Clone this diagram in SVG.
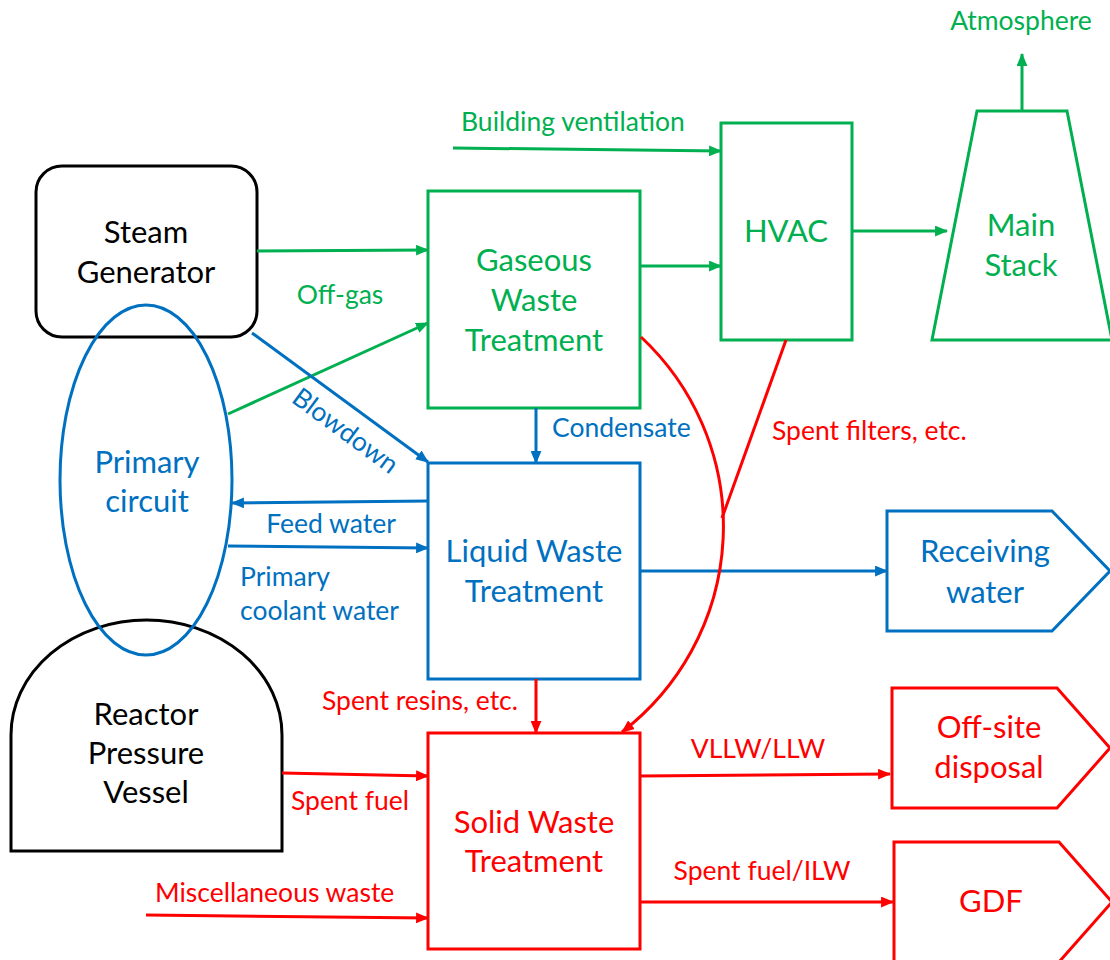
<svg xmlns="http://www.w3.org/2000/svg" width="1110" height="960" viewBox="0 0 1110 960">
<defs>
<style>
text{font-family:Lato,"Open Sans","Liberation Sans",sans-serif}
.big{font-size:31px;text-anchor:middle}
.sm{font-size:26.5px}
.g{fill:#00B050}.b{fill:#0070C0}.r{fill:#FF0000}.k{fill:#000}
.ng{fill:#fff;stroke:#00B050;stroke-width:3}
.nb{fill:none;stroke:#0070C0;stroke-width:3}
.nr{fill:#fff;stroke:#FF0000;stroke-width:3}
.nk{fill:#fff;stroke:#000;stroke-width:3}
.cg{fill:none;stroke:#00B050;stroke-width:3;marker-end:url(#ag)}
.cb{fill:none;stroke:#0070C0;stroke-width:3;marker-end:url(#ab)}
.cr{fill:none;stroke:#FF0000;stroke-width:3;marker-end:url(#ar)}
.crn{fill:none;stroke:#FF0000;stroke-width:3}
</style>
<marker id="ag" viewBox="0 0 12 10" refX="11" refY="5" markerWidth="13" markerHeight="11" orient="auto" markerUnits="userSpaceOnUse"><path d="M0,0 L12,5 L0,10 Z" fill="#00B050"/></marker>
<marker id="ab" viewBox="0 0 12 10" refX="11" refY="5" markerWidth="13" markerHeight="11" orient="auto" markerUnits="userSpaceOnUse"><path d="M0,0 L12,5 L0,10 Z" fill="#0070C0"/></marker>
<marker id="ar" viewBox="0 0 12 10" refX="11" refY="5" markerWidth="13" markerHeight="11" orient="auto" markerUnits="userSpaceOnUse"><path d="M0,0 L12,5 L0,10 Z" fill="#FF0000"/></marker>
</defs>
<rect width="1110" height="960" fill="#fff"/>

<g id="steam-generator">
<rect class="nk" x="36" y="166" width="221" height="171" rx="26"/>
<text class="big k" x="146" y="243">Steam</text>
<text class="big k" x="146" y="283">Generator</text>
</g>

<g id="reactor-pressure-vessel">
<path class="nk" d="M11,851 V735 A135.5,115 0 0 1 282,735 V851 Z"/>
<text class="big k" x="146" y="725">Reactor</text>
<text class="big k" x="146" y="764">Pressure</text>
<text class="big k" x="146" y="803">Vessel</text>
</g>

<g id="primary-circuit">
<ellipse class="nb" cx="146" cy="480" rx="86" ry="175"/>
<text class="big b" x="147" y="473">Primary</text>
<text class="big b" x="147" y="512">circuit</text>
</g>

<g id="gaseous-waste-treatment">
<rect class="ng" x="428" y="191" width="212" height="217"/>
<text class="big g" x="534" y="271">Gaseous</text>
<text class="big g" x="534" y="311">Waste</text>
<text class="big g" x="534" y="351">Treatment</text>
</g>

<g id="hvac">
<rect class="ng" x="721" y="123" width="131" height="217"/>
<text class="big g" x="786" y="242">HVAC</text>
</g>

<g id="main-stack">
<path class="ng" d="M977,111 H1067 L1112,340 H932 Z"/>
<text class="big g" x="1021" y="236">Main</text>
<text class="big g" x="1021" y="276">Stack</text>
</g>

<g id="atmosphere">
<text class="sm g" x="1021" y="30" text-anchor="middle">Atmosphere</text>
</g>

<g id="liquid-waste-treatment">
<rect class="nb" x="428" y="463" width="212" height="216" style="fill:#fff"/>
<text class="big b" x="534" y="562">Liquid Waste</text>
<text class="big b" x="534" y="602">Treatment</text>
</g>

<g id="receiving-water">
<path class="nb" d="M887,511 H1052 L1110,571 L1052,631 H887 Z" style="fill:#fff"/>
<text class="big b" x="985" y="562">Receiving</text>
<text class="big b" x="985" y="603">water</text>
</g>

<g id="solid-waste-treatment">
<rect class="nr" x="428" y="733" width="212" height="216"/>
<text class="big r" x="534" y="833">Solid Waste</text>
<text class="big r" x="534" y="872">Treatment</text>
</g>

<g id="off-site-disposal">
<path class="nr" d="M892,688 H1057 L1110,748 L1057,808 H892 Z"/>
<text class="big r" x="989" y="738">Off-site</text>
<text class="big r" x="989" y="778">disposal</text>
</g>

<g id="gdf">
<path class="nr" d="M894,842 H1059 L1112,902 L1059,962 H894 Z"/>
<text class="big r" x="991" y="912">GDF</text>
</g>

<g id="connectors">
<line class="cg" x1="257" y1="251" x2="428" y2="250"/>
<line class="cg" x1="228" y1="414" x2="428" y2="323"/>
<line class="cg" x1="640" y1="266" x2="721" y2="266"/>
<line class="cg" x1="453" y1="148" x2="721" y2="151"/>
<line class="cg" x1="852" y1="231" x2="947" y2="231"/>
<line class="cg" x1="1022" y1="111" x2="1022" y2="54"/>
<line class="cb" x1="252" y1="333" x2="428" y2="462"/>
<line class="cb" x1="536" y1="408" x2="536" y2="463"/>
<line class="cb" x1="428" y1="501" x2="232" y2="503"/>
<line class="cb" x1="228" y1="546" x2="428" y2="548"/>
<line class="cb" x1="640" y1="571" x2="887" y2="571"/>
<path class="cr" d="M641,337 A259,259 0 0 1 622,732"/>
<line class="crn" x1="786" y1="340" x2="722" y2="518"/>
<line class="cr" x1="536" y1="679" x2="536" y2="733"/>
<line class="cr" x1="282" y1="773" x2="428" y2="776"/>
<line class="cr" x1="146" y1="915" x2="428" y2="918"/>
<line class="cr" x1="640" y1="776" x2="890" y2="774"/>
<line class="cr" x1="640" y1="902" x2="893" y2="902"/>

<text class="sm g" x="340" y="304" text-anchor="middle">Off-gas</text>
<text class="sm g" x="461" y="131">Building ventilation</text>
<text class="sm b" transform="translate(340,438) rotate(36.5)" text-anchor="middle">Blowdown</text>
<text class="sm b" x="552" y="437">Condensate</text>
<text class="sm b" x="331" y="533" text-anchor="middle">Feed water</text>
<text class="sm b" x="240" y="586">Primary</text>
<text class="sm b" x="240" y="620">coolant water</text>
<text class="sm r" x="772" y="440">Spent filters, etc.</text>
<text class="sm r" x="518" y="710" text-anchor="end">Spent resins, etc.</text>
<text class="sm r" x="350" y="810" text-anchor="middle">Spent fuel</text>
<text class="sm r" x="155" y="902">Miscellaneous waste</text>
<text class="sm r" x="758" y="758" text-anchor="middle">VLLW/LLW</text>
<text class="sm r" x="762" y="880" text-anchor="middle">Spent fuel/ILW</text>
</g>
</svg>
